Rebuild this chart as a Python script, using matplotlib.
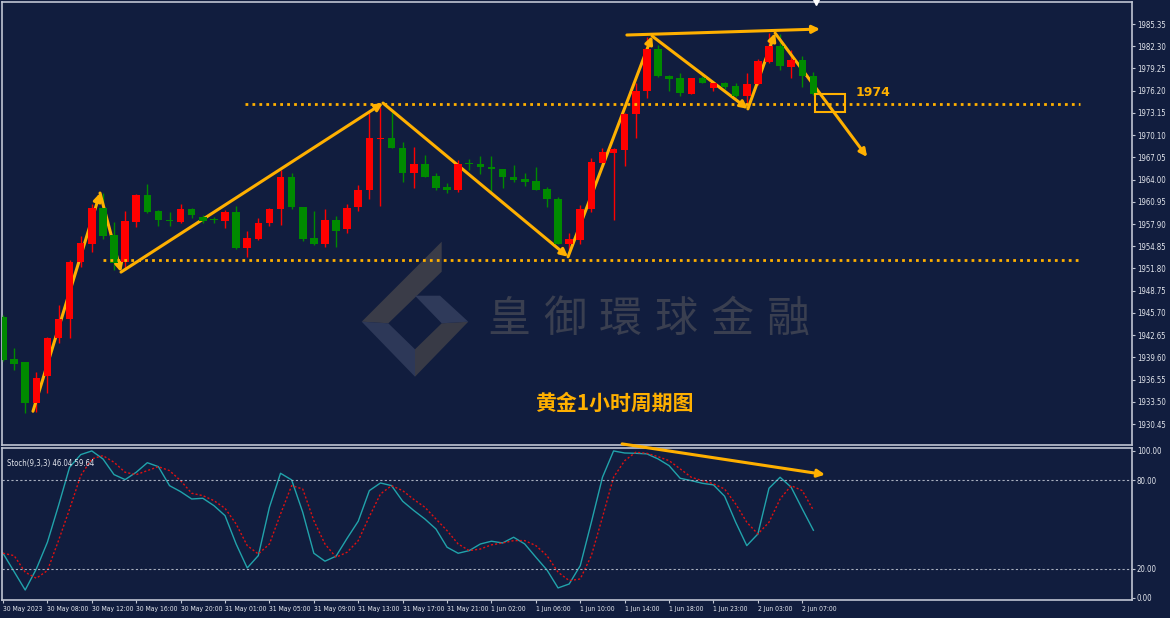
import numpy as np
import matplotlib.pyplot as plt
from matplotlib.patches import Polygon, Rectangle

plt.rcParams['font.family'] = ['DejaVu Sans']
plt.rcParams['font.stretch'] = 'condensed'

# hourly gold candles (open, high, low, close)
opens = [1945.2, 1939.4, 1938.9, 1933.3, 1937.1, 1942.2, 1944.8, 1952.7, 1955.2, 1960.1,
         1956.4, 1952.7, 1958.2, 1961.9, 1959.7, 1958.4, 1958.2, 1960.0, 1958.9, 1958.5,
         1958.3, 1959.5, 1954.6, 1955.8, 1958.0, 1959.9, 1964.3, 1960.2, 1956.0, 1955.2,
         1958.5, 1957.2, 1960.2, 1962.5, 1969.6, 1969.7, 1968.4, 1964.9, 1966.1, 1964.5,
         1963.0, 1962.6, 1966.3, 1966.1, 1965.7, 1965.4, 1964.3, 1964.1, 1963.8, 1962.7,
         1961.4, 1955.2, 1955.7, 1960.0, 1966.3, 1967.7, 1968.1, 1973.0, 1976.1, 1981.9,
         1978.2, 1977.9, 1975.8, 1977.9, 1976.5, 1977.2, 1976.9, 1975.5, 1977.1, 1980.2,
         1982.3, 1979.5, 1980.4, 1978.2]
highs = [1945.4, 1940.9, 1939.0, 1937.6, 1942.4, 1946.8, 1953.0, 1956.2, 1960.7, 1962.1,
         1958.2, 1959.7, 1962.0, 1963.4, 1959.8, 1959.5, 1960.6, 1960.1, 1959.2, 1958.8,
         1959.8, 1960.4, 1957.0, 1958.7, 1960.1, 1965.3, 1964.9, 1960.3, 1959.7, 1960.0,
         1959.0, 1960.6, 1963.3, 1973.3, 1974.0, 1973.3, 1969.1, 1968.5, 1967.4, 1964.9,
         1963.5, 1966.7, 1966.8, 1967.2, 1967.3, 1965.5, 1966.0, 1964.9, 1965.7, 1963.0,
         1961.6, 1956.6, 1960.5, 1966.9, 1968.3, 1968.3, 1973.1, 1977.2, 1983.6, 1982.5,
         1978.3, 1978.6, 1978.0, 1978.2, 1977.4, 1977.4, 1977.2, 1978.6, 1980.6, 1984.1,
         1984.0, 1981.8, 1980.9, 1978.8]
lows = [1939.1, 1937.9, 1932.0, 1932.1, 1934.7, 1941.6, 1942.3, 1952.0, 1954.1, 1955.9,
        1951.6, 1951.6, 1957.5, 1959.4, 1957.6, 1957.6, 1958.1, 1958.7, 1958.0, 1958.1,
        1957.3, 1954.5, 1953.4, 1955.7, 1957.6, 1957.8, 1959.9, 1955.5, 1955.0, 1954.8,
        1954.7, 1956.7, 1959.7, 1961.4, 1960.4, 1968.3, 1963.6, 1962.9, 1964.3, 1962.5,
        1962.2, 1962.3, 1965.3, 1964.8, 1962.3, 1962.9, 1963.6, 1963.1, 1962.5, 1960.3,
        1955.1, 1954.3, 1955.1, 1959.6, 1965.9, 1958.5, 1965.8, 1969.7, 1975.2, 1978.1,
        1976.1, 1975.5, 1975.7, 1977.2, 1976.1, 1976.4, 1975.3, 1974.2, 1977.0, 1980.0,
        1979.0, 1978.0, 1976.7, 1975.6]
closes = [1939.3, 1938.7, 1933.3, 1936.8, 1942.3, 1944.9, 1952.7, 1955.3, 1960.1, 1956.3,
          1952.6, 1958.3, 1961.9, 1959.6, 1958.4, 1958.3, 1960.0, 1959.1, 1958.3, 1958.4,
          1959.5, 1954.6, 1956.0, 1958.0, 1960.0, 1964.3, 1960.2, 1955.8, 1955.2, 1958.5,
          1957.0, 1960.1, 1962.6, 1969.7, 1969.7, 1968.4, 1964.9, 1966.1, 1964.4, 1962.9,
          1962.5, 1966.2, 1966.1, 1965.7, 1965.4, 1964.3, 1964.0, 1963.7, 1962.6, 1961.4,
          1955.2, 1955.8, 1960.0, 1966.4, 1967.8, 1968.2, 1973.0, 1976.2, 1981.9, 1978.2,
          1977.8, 1975.9, 1977.9, 1977.3, 1977.2, 1976.7, 1975.5, 1977.1, 1980.3, 1982.3,
          1979.6, 1980.4, 1978.2, 1975.8]

# Stochastic(9,3,3)
stoch_k = [30.4, 17.9, 5.4, 19.7, 37.9, 62.8, 88.9, 97.5, 100.0, 94.6,
           83.9, 80.5, 85.5, 92.0, 89.3, 76.4, 72.3, 67.3, 67.8, 62.8,
           56.0, 36.7, 20.4, 28.8, 61.7, 84.8, 80.3, 58.3, 30.4, 25.0,
           28.4, 40.6, 52.2, 73.0, 78.2, 76.4, 65.8, 59.5, 53.7, 46.9,
           34.5, 30.4, 32.2, 36.7, 38.6, 37.4, 41.3, 36.7, 27.7, 19.0,
           6.8, 9.5, 22.0, 51.5, 82.1, 100.0, 98.6, 98.4, 98.0, 94.6,
           90.0, 81.4, 79.8, 78.0, 76.9, 69.2, 51.5, 35.6, 43.5, 74.6,
           82.1, 75.3, 60.5, 46.04]
stoch_d = [30.4, 28.8, 17.5, 13.4, 18.6, 39.0, 60.5, 83.2, 94.6, 96.8,
           92.3, 85.5, 83.9, 86.6, 89.3, 86.6, 79.8, 71.2, 69.6, 66.2,
           61.0, 50.3, 35.6, 29.9, 36.7, 57.1, 76.4, 74.1, 52.6, 36.7,
           27.7, 31.1, 39.0, 55.3, 70.7, 76.4, 73.0, 67.0, 61.7, 53.7,
           45.8, 36.7, 32.2, 33.3, 36.1, 37.4, 39.0, 39.0, 35.6, 28.8,
           17.5, 11.8, 12.9, 28.8, 54.9, 82.1, 93.4, 99.1, 98.4, 96.1,
           93.4, 87.8, 82.1, 79.8, 77.6, 74.1, 63.9, 51.5, 43.5, 51.5,
           67.3, 76.4, 73.0, 59.64]

time_labels = ['30 May 2023', '30 May 08:00', '30 May 12:00', '30 May 16:00', '30 May 20:00',
               '31 May 01:00', '31 May 05:00', '31 May 09:00', '31 May 13:00', '31 May 17:00',
               '31 May 21:00', '1 Jun 02:00', '1 Jun 06:00', '1 Jun 10:00', '1 Jun 14:00',
               '1 Jun 18:00', '1 Jun 23:00', '2 Jun 03:00', '2 Jun 07:00']
label_bars = [0, 4, 8, 12, 16, 20, 24, 28, 32, 36, 40, 44, 48, 52, 56, 60, 64, 68, 72]
price_ticks = [1930.45, 1933.50, 1936.55, 1939.60, 1942.65, 1945.70, 1948.75, 1951.80,
               1954.85, 1957.90, 1960.95, 1964.00, 1967.05, 1970.10, 1973.15, 1976.20,
               1979.25, 1982.30, 1985.35]
stoch_ticks = [0, 20, 80, 100]

# hand drawn analysis lines (bar index, price)
zigzag_x = [2.7, 8.74, 10.63, 34.23, 50.9, 58.47, 67.1, 69.55, 77.84]
zigzag_y = [1932.2, 1962.15, 1951.3, 1974.5, 1953.4, 1983.7, 1973.7, 1984.1, 1967.1]
top_line_x = [56.2, 73.6]
top_line_y = [1983.84, 1984.66]
resistance = 1974.4
support = 1952.96
stoch_arrow_x = [55.77, 74.05]
stoch_arrow_y = [104.8, 83.9]

bg = '#111d3e'
fg = '#e4e7ee'
frame = '#c0c5d2'
orange = '#ffb000'
up_col = '#ff0000'
down_col = '#008a00'
xsize = 4.9
ysize = 5.6

W, H = 1170, 618


def fx(x):
    return x / W


def fy(y):
    return 1 - y / H


def arrow(ax, x0, y0, x1, y1, lw=2.2, ms=11):
    ax.annotate('', xy=(x1, y1), xytext=(x0, y0), annotation_clip=False,
                arrowprops=dict(arrowstyle='-|>', color=orange, lw=lw,
                                mutation_scale=ms, shrinkA=0, shrinkB=0))


def main():
    fig = plt.figure(figsize=(W / 100, H / 100), dpi=100, facecolor=bg)
    ax = fig.add_axes([fx(2), fy(445), fx(1130), (445 - 2) / H], facecolor=bg)
    ax2 = fig.add_axes([fx(2), fy(600), fx(1130), (600 - 448) / H], facecolor=bg)

    n = len(opens)
    x = np.arange(n)
    o = np.array(opens)
    c = np.array(closes)
    colors = [up_col if cc >= oo else down_col for oo, cc in zip(o, c)]
    ax.vlines(x, lows, highs, colors=colors, lw=1, zorder=3)
    body_h = np.maximum(np.abs(c - o), 0.12)
    ax.bar(x, body_h, bottom=np.minimum(o, c), width=0.68, color=colors, lw=0, zorder=4)

    ax.set_xlim(-0.09, 101.7)
    ax.set_ylim(1927.57, 1988.37)
    ax.yaxis.tick_right()
    ax.set_yticks(price_ticks)
    ax.set_yticklabels(['%.2f' % p for p in price_ticks])
    ax.tick_params(axis='y', colors=frame, labelcolor=fg, labelsize=ysize, length=2.5, pad=1, width=0.8)
    ax.set_xticks([])
    for s in ax.spines.values():
        s.set_color(frame)
        s.set_linewidth(1.2)

    # support / resistance
    ax.hlines(resistance, 21.8, 97.0, colors=orange, lw=2, linestyles=(0, (1, 1.5)), zorder=5)
    ax.hlines(support, 9.0, 97.0, colors=orange, lw=2, linestyles=(0, (1, 1.5)), zorder=5)

    for i in range(len(zigzag_x) - 1):
        arrow(ax, zigzag_x[i], zigzag_y[i], zigzag_x[i + 1], zigzag_y[i + 1])
    arrow(ax, top_line_x[0], top_line_y[0], top_line_x[1], top_line_y[1])

    ax.add_patch(Rectangle((73.15, 1973.27), 2.7, 2.47, fill=False, ec=orange, lw=1.5, zorder=6))
    ax.text(76.8, 1975.9, '1974', color=orange, fontsize=9, fontweight='bold',
            family=['DejaVu Sans'], fontstretch='normal', ha='left', va='center')
    ax.plot([73.2], [1988.37], marker='v', color='white', ms=4, clip_on=False, zorder=7)

    # watermark logo + name
    faces = [
        ([(441.7, 241.7), (441.7, 271.7), (388.3, 323.3), (361.7, 321.7)], '#3a3c48'),
        ([(361.7, 321.7), (388.3, 323.3), (415, 349.3), (415, 376.7)], '#2d3858'),
        ([(415, 376.7), (415, 349.3), (441.7, 323.3), (468.3, 321.7)], '#383a46'),
        ([(415, 295.7), (440, 295.7), (468.3, 321.7), (441.7, 323.3)], '#2f3a5a'),
    ]
    for pts, col in faces:
        poly = Polygon([(fx(a), fy(b)) for a, b in pts], closed=True, fc=col, ec='none',
                       transform=fig.transFigure, zorder=0.5)
        ax.add_patch(poly)
    for k, ch in enumerate('皇御環球金融'):
        ax.text(fx(509 + 55.8 * k), fy(320), ch, transform=fig.transFigure,
                family=['Noto Sans CJK TC'], fontsize=31, color='#3a3f50',
                ha='center', va='center', zorder=0.6)

    ax.text(fx(614), fy(403), '黄金1小时周期图', transform=fig.transFigure,
            family=['Noto Sans CJK SC', 'DejaVu Sans'], fontsize=15, fontweight='bold',
            color=orange, ha='center', va='center', zorder=6)

    # stochastic panel
    ax2.plot(x, stoch_k, color='#21a3ab', lw=1)
    ax2.plot(x, stoch_d, color='#e01010', lw=1, ls=(0, (1.5, 1.5)))
    ax2.axhline(80, color='#a9afbf', lw=0.8, ls=(0, (2, 2)))
    ax2.axhline(20, color='#a9afbf', lw=0.8, ls=(0, (2, 2)))
    ax2.set_xlim(-0.09, 101.7)
    ax2.set_ylim(-1.4, 102)
    ax2.yaxis.tick_right()
    ax2.set_yticks(stoch_ticks)
    ax2.set_yticklabels(['%.2f' % v for v in stoch_ticks])
    ax2.set_xticks(label_bars)
    ax2.set_xticklabels(time_labels, ha='left')
    ax2.tick_params(axis='y', colors=frame, labelcolor=fg, labelsize=ysize, length=2.5, pad=1, width=0.8)
    ax2.tick_params(axis='x', colors=frame, labelcolor=fg, labelsize=xsize, length=2.5, pad=1.5, width=0.8)
    for s in ax2.spines.values():
        s.set_color(frame)
        s.set_linewidth(1.2)
    ax2.text(0.004, 0.93, 'Stoch(9,3,3) 46.04 59.64', transform=ax2.transAxes,
             color=fg, fontsize=ysize, ha='left', va='top')
    arrow(ax2, stoch_arrow_x[0], stoch_arrow_y[0], stoch_arrow_x[1], stoch_arrow_y[1], lw=2.2)

    plt.savefig('out.png', dpi=100, facecolor=bg)


if __name__ == '__main__':
    main()
